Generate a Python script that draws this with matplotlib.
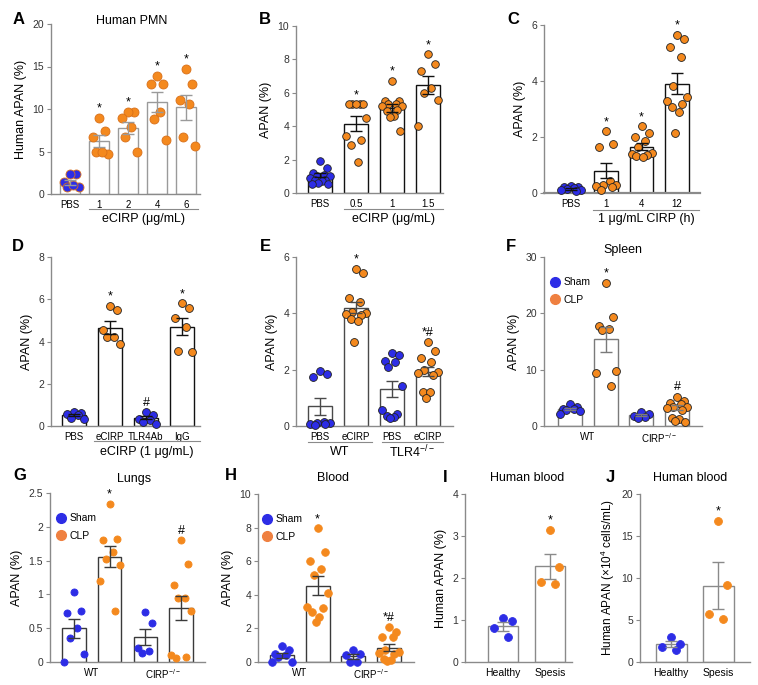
import numpy as np
import matplotlib
matplotlib.use('Agg')
import matplotlib.pyplot as plt
from matplotlib.lines import Line2D

plt.rcParams['font.family'] = ['Liberation Sans', 'DejaVu Sans']
plt.rcParams['mathtext.fontset'] = 'custom'
plt.rcParams['mathtext.rm'] = 'Liberation Sans'
plt.rcParams['mathtext.it'] = 'Liberation Sans:italic'
plt.rcParams['mathtext.bf'] = 'Liberation Sans:bold'

BLUE = '#2d2de6'
ORANGE = '#f4891e'

# ---- data ----
A_labels = ['PBS', '1', '2', '4', '6']
A_vals = [[2.3, 2.35, 1.45, 0.86, 0.86, 1.1],
          [9.0, 7.45, 6.75, 4.9, 4.7, 4.9],
          [9.65, 9.65, 9.0, 7.9, 6.75, 5.0],
          [13.9, 13.0, 13.0, 9.6, 8.8, 6.4],
          [14.7, 13.0, 11.05, 10.55, 6.75, 5.65]]
A_mean = [1.35, 6.2, 7.8, 10.8, 10.2]
A_sem = [0.3, 0.7, 0.7, 1.2, 1.45]

B_labels = ['PBS', '0.5', '1', '1.5']
B_vals = [[1.93, 1.5, 1.2, 1.1, 1.0, 1.0, 0.9, 0.8, 0.8, 0.7, 0.6, 0.55, 0.55],
          [5.3, 5.3, 5.3, 5.3, 5.3, 4.47, 3.4, 3.2, 2.9, 1.85],
          [6.7, 5.5, 5.5, 5.35, 5.3, 5.2, 5.2, 5.0, 4.9, 4.6, 4.55, 3.7],
          [8.3, 7.7, 7.3, 6.3, 6.0, 5.55, 4.0]]
B_mean = [1.05, 4.15, 5.1, 6.45]
B_sem = [0.12, 0.45, 0.22, 0.55]

C_labels = ['PBS', '1', '4', '12']
C_vals = [[0.25, 0.22, 0.2, 0.18, 0.15, 0.12, 0.1, 0.08],
          [2.2, 1.75, 1.63, 0.42, 0.3, 0.3, 0.26, 0.2, 0.12],
          [2.38, 2.16, 2.0, 1.84, 1.66, 1.43, 1.4, 1.37, 1.33, 1.3],
          [5.66, 5.5, 5.2, 4.85, 3.82, 3.42, 3.3, 3.18, 3.06, 2.88, 2.16]]
C_mean = [0.15, 0.8, 1.65, 3.9]
C_sem = [0.03, 0.27, 0.12, 0.37]

D_labels = ['PBS', 'eCIRP', 'TLR4Ab', 'IgG']
D_vals = [[0.65, 0.6, 0.55, 0.5, 0.4, 0.35],
          [5.7, 5.5, 4.55, 4.2, 4.2, 3.9],
          [0.65, 0.5, 0.35, 0.3, 0.2, 0.1],
          [5.8, 5.6, 5.1, 4.7, 3.55, 3.5]]
D_mean = [0.52, 4.65, 0.4, 4.7]
D_sem = [0.05, 0.31, 0.09, 0.4]

E_labels = ['PBS', 'eCIRP', 'PBS', 'eCIRP']
E_vals = [[1.97, 1.85, 1.75, 0.15, 0.1, 0.1, 0.07, 0.06, 0.04],
          [5.57, 5.43, 4.53, 4.4, 4.04, 4.0, 3.96, 3.93, 3.8, 3.74, 2.98],
          [2.6, 2.53, 2.29, 2.27, 2.09, 1.43, 0.57, 0.42, 0.37, 0.33, 0.3],
          [2.98, 2.67, 2.43, 2.27, 1.99, 1.93, 1.87, 1.81, 1.22, 1.2, 1.0]]
E_mean = [0.7, 4.2, 1.3, 1.93]
E_sem = [0.3, 0.2, 0.28, 0.17]

F_vals = [[3.9, 3.3, 3.1, 3.0, 2.85, 2.6, 2.1],
          [25.4, 19.4, 17.7, 17.2, 17.0, 9.7, 9.4, 7.1],
          [2.4, 2.1, 1.8, 1.66, 1.4],
          [5.2, 4.45, 4.0, 3.85, 3.45, 3.4, 3.2, 2.85, 1.5, 1.2, 0.8, 0.65]]
F_mean = [3.0, 15.4, 2.0, 3.3]
F_sem = [0.2, 2.2, 0.18, 0.45]

G_vals = [[1.04, 0.76, 0.73, 0.5, 0.35, 0.12, 0.0],
          [2.34, 1.82, 1.8, 1.63, 1.52, 1.43, 1.2, 0.75],
          [0.74, 0.58, 0.2, 0.17, 0.14],
          [1.8, 1.45, 1.14, 0.95, 0.94, 0.75, 0.11, 0.07, 0.06]]
G_mean = [0.5, 1.56, 0.37, 0.8]
G_sem = [0.14, 0.16, 0.12, 0.18]

H_vals = [[0.95, 0.7, 0.45, 0.4, 0.3, 0.0, 0.0],
          [7.95, 6.55, 6.0, 5.55, 5.2, 4.13, 3.27, 3.2, 3.0, 2.7, 2.4],
          [0.7, 0.45, 0.4, 0.0, 0.0],
          [2.06, 1.78, 1.47, 1.47, 0.71, 0.57, 0.55, 0.5, 0.16, 0.1, 0.06]]
H_mean = [0.4, 4.55, 0.35, 0.85]
H_sem = [0.15, 0.57, 0.15, 0.2]

I_labels = ['Healthy', 'Spesis']
I_vals = [[1.04, 0.98, 0.8, 0.6], [3.15, 2.27, 1.9, 1.85]]
I_mean = [0.85, 2.28]
I_sem = [0.1, 0.3]

J_vals = [[3.0, 2.2, 1.8, 1.4], [16.8, 9.2, 5.7, 5.1]]
J_mean = [2.1, 9.1]
J_sem = [0.35, 2.75]

W, H = 758, 685
fig = plt.figure(figsize=(W / 100, H / 100), dpi=100)

# zigzag spread of the points inside a bar, by rank (fraction of half bar width)
ZIG = [0.0, 0.6, -0.6, 0.3, -0.3, 0.85, -0.85, 0.45, -0.45, 0.15, -0.15, 0.7, -0.7]


def make_ax(l, t, r, b):
    return fig.add_axes([l / W, 1 - b / H, (r - l) / W, (b - t) / H])


def spread(x0, ys, bw):
    xs = np.zeros(len(ys))
    for k, i in enumerate(np.argsort(ys, kind='stable')[::-1]):
        xs[i] = x0 + ZIG[k % len(ZIG)] * bw / 2
    return xs


def panel(ax, vals, means, sems, colors, xlim, ymax, yticks, ms=32, bw=0.66,
          bar_ec='#111111', pt_ec='#222222', marks=None, ytl=None):
    ax.set_xlim(xlim)
    ax.set_ylim(0, ymax)
    x = np.arange(len(means))
    ax.bar(x, means, width=bw, color='white', edgecolor=bar_ec, lw=1.0, zorder=1)
    for i, v in enumerate(vals):
        xs = spread(i, v, bw)
        ec = pt_ec if pt_ec else colors[i]
        ax.scatter(xs, v, s=ms, color=colors[i], edgecolors=ec, linewidths=0.6,
                   zorder=3, clip_on=False)
    ax.errorbar(x, means, yerr=sems, fmt='none', ecolor=bar_ec, elinewidth=1.0,
                capsize=4, capthick=1.0, zorder=4)
    if marks:
        for i, m in enumerate(marks):
            if m:
                ax.annotate(m, (i, max(vals[i])), xytext=(0, 4.5), textcoords='offset points',
                            ha='center', va='baseline', fontsize=9)
    for s in ['top', 'right']:
        ax.spines[s].set_visible(False)
    for s in ['left', 'bottom']:
        ax.spines[s].set_color('#8a8a8a')
        ax.spines[s].set_linewidth(1.0)
    ax.set_yticks(yticks)
    if ytl:
        ax.set_yticklabels(ytl)
    ax.tick_params(axis='y', length=3, width=0.8, color='#8a8a8a', labelsize=7.5,
                   labelcolor='#333333', pad=2)
    ax.tick_params(axis='x', length=0, labelsize=7, pad=4)


def group_line(ax, x0, x1, text, ypx, tpx, fs=9):
    hpx = ax.get_position().height * H
    tr = ax.get_xaxis_transform()
    ax.plot([x0, x1], [-ypx / hpx] * 2, color='#8a8a8a', lw=0.8, transform=tr, clip_on=False)
    if text:
        ax.text((x0 + x1) / 2, -tpx / hpx, text, transform=tr, ha='center', va='center',
                fontsize=fs)


def legend(ax, x, y):
    hs = [Line2D([], [], marker='o', ls='none', markersize=7, markerfacecolor=BLUE,
                 markeredgecolor=BLUE, label='Sham'),
          Line2D([], [], marker='o', ls='none', markersize=7, markerfacecolor='#ef8040',
                 markeredgecolor='#ef8040', label='CLP')]
    ax.legend(handles=hs, loc='upper left', bbox_to_anchor=(x, y), frameon=False,
              fontsize=7.5, handlelength=0.8, handletextpad=0.4, labelspacing=0.75,
              borderpad=0, borderaxespad=0)


def title(text, xpx, ypx):
    fig.text(xpx / W, 1 - ypx / H, text, ha='center', va='center', fontsize=9)


bo = [BLUE, ORANGE, BLUE, ORANGE]

# A
ax = make_ax(51, 24, 200, 194)
panel(ax, A_vals, A_mean, A_sem, [BLUE] + [ORANGE] * 4, (-0.655, 4.48), 20, [0, 5, 10, 15, 20],
      ms=42, bw=0.69, bar_ec='#9a9a9a', pt_ec='#d8701a', marks=['', '*', '*', '*', '*'])
ax.set_xticks(range(5))
ax.set_xticklabels(A_labels)
ax.set_ylabel('Human APAN (%)', fontsize=9, labelpad=4)
group_line(ax, 0.65, 4.41, 'eCIRP (μg/mL)', 15, 25)
title('Human PMN', 132, 21)

# B
ax = make_ax(296, 26, 443, 193)
panel(ax, B_vals, B_mean, B_sem, [BLUE] + [ORANGE] * 3, (-0.67, 3.42), 10, [0, 2, 4, 6, 8, 10],
      ms=30, bw=0.66, marks=['', '*', '*', '*'])
ax.set_xticks(range(4))
ax.set_xticklabels(B_labels)
ax.set_ylabel('APAN (%)', fontsize=9, labelpad=4)
group_line(ax, 0.67, 3.42, 'eCIRP (μg/mL)', 16, 26)

# C
ax = make_ax(544, 25, 700, 193)
panel(ax, C_vals, C_mean, C_sem, [BLUE] + [ORANGE] * 3, (-0.76, 3.65), 6, [0, 2, 4, 6],
      ms=32, bw=0.67, marks=['', '*', '*', '*'])
ax.spines['bottom'].set_linewidth(1.6)
ax.set_xticks(range(4))
ax.set_xticklabels(C_labels)
ax.set_ylabel('APAN (%)', fontsize=9, labelpad=4)
group_line(ax, 0.62, 3.63, '1 μg/mL CIRP (h)', 17, 26)

# D
ax = make_ax(51, 257, 200, 426)
panel(ax, D_vals, D_mean, D_sem, bo, (-0.64, 3.5), 8, [0, 2, 4, 6, 8],
      ms=32, bw=0.65, marks=['', '*', '#', '*'])
ax.set_xticks(range(4))
ax.set_xticklabels(D_labels)
ax.set_ylabel('APAN (%)', fontsize=9, labelpad=4)
group_line(ax, 0.55, 3.5, 'eCIRP (1 μg/mL)', 15, 26)

# E
ax = make_ax(296, 257, 453, 426)
panel(ax, E_vals, E_mean, E_sem, bo, (-0.67, 3.7), 6, [0, 2, 4, 6],
      ms=32, bw=0.65, bar_ec='#4a4a4a', marks=['', '*', '', '*#'])
ax.set_xticks(range(4))
ax.set_xticklabels(E_labels)
ax.set_ylabel('APAN (%)', fontsize=9, labelpad=4)
group_line(ax, -0.33, 1.44, 'WT', 16, 26)
group_line(ax, 1.72, 3.42, 'TLR4$^{-/-}$', 16, 26)

# F
ax = make_ax(544, 257, 702, 426)
panel(ax, F_vals, F_mean, F_sem, bo, (-0.73, 3.7), 30, [0, 10, 20, 30],
      ms=32, bw=0.67, bar_ec='#7a7a7a', marks=['', '*', '', '#'])
ax.set_xticks([0.5, 2.5])
ax.set_xticklabels(['WT', 'CIRP$^{-/-}$'])
ax.set_ylabel('APAN (%)', fontsize=9, labelpad=4)
legend(ax, 0.045, 0.88)
title('Spleen', 623, 250)

# G
ax = make_ax(50, 493, 205, 662)
panel(ax, G_vals, G_mean, G_sem, bo, (-0.67, 3.67), 2.5, [0, 0.5, 1, 1.5, 2, 2.5],
      ms=26, bw=0.65, bar_ec='#3a3a3a', pt_ec=None, marks=['', '*', '', '#'],
      ytl=['0', '0.5', '1', '1.5', '2', '2.5'])
ax.set_xticks([0.5, 2.5])
ax.set_xticklabels(['WT', 'CIRP$^{-/-}$'])
ax.set_ylabel('APAN (%)', fontsize=9, labelpad=4)
legend(ax, 0.045, 0.88)
title('Lungs', 134, 479)

# H
ax = make_ax(258, 494, 414, 662)
panel(ax, H_vals, H_mean, H_sem, bo, (-0.67, 3.7), 10, [0, 2, 4, 6, 8, 10],
      ms=30, bw=0.67, bar_ec='#3a3a3a', pt_ec=None, marks=['', '*', '', '*#'])
ax.set_xticks([0.5, 2.5])
ax.set_xticklabels(['WT', 'CIRP$^{-/-}$'])
ax.set_ylabel('APAN (%)', fontsize=9, labelpad=4)
legend(ax, 0.03, 0.88)
title('Blood', 333, 478)

# I
ax = make_ax(465, 494, 572, 662)
panel(ax, I_vals, I_mean, I_sem, [BLUE, ORANGE], (-0.81, 1.47), 4, [0, 1, 2, 3, 4],
      ms=32, bw=0.65, bar_ec='#8a8a8a', pt_ec=None, marks=['', '*'])
ax.set_xticks(range(2))
ax.set_xticklabels(I_labels, fontsize=7.5)
ax.set_ylabel('Human APAN (%)', fontsize=9, labelpad=4)
title('Human blood', 527, 478)

# J
ax = make_ax(640, 494, 750, 662)
panel(ax, J_vals, J_mean, J_sem, [BLUE, ORANGE], (-0.66, 1.68), 20, [0, 5, 10, 15, 20],
      ms=32, bw=0.66, bar_ec='#8a8a8a', pt_ec=None, marks=['', '*'])
ax.set_xticks(range(2))
ax.set_xticklabels(I_labels, fontsize=7.5)
ax.set_ylabel('Human APAN (×10$^4$ cells/mL)', fontsize=8.5, labelpad=3)
title('Human blood', 690, 478)

# panel letters
for letter, (lx, ly) in zip('ABCDEFGHIJ', [(13, 19), (259, 19), (507, 19), (12, 246), (260, 246),
                                           (506, 246), (13, 476), (225, 476), (443, 478), (606, 478)]):
    fig.text(lx / W, 1 - ly / H, letter, ha='left', va='center', fontsize=12, weight='bold')

fig.savefig('out.png', dpi=100)
